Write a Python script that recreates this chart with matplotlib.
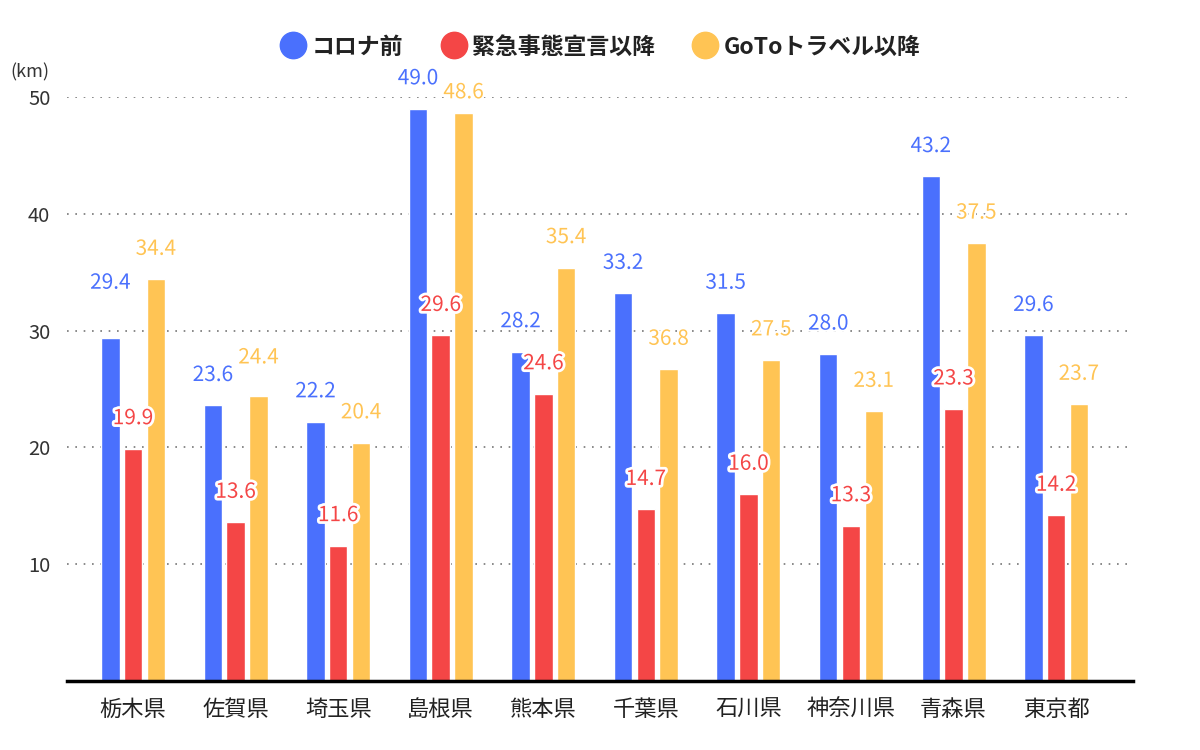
import matplotlib
matplotlib.use("Agg")
import matplotlib.pyplot as plt
import matplotlib.patheffects as pe
from matplotlib.lines import Line2D
import numpy as np

plt.rcParams['font.family'] = ['Noto Sans CJK JP', 'DejaVu Sans']

categories = ["栃木県", "佐賀県", "埼玉県", "島根県", "熊本県", "千葉県", "石川県", "神奈川県", "青森県", "東京都"]
series_names = ["コロナ前", "緊急事態宣言以降", "GoToトラベル以降"]

before_covid = [29.4, 23.6, 22.2, 49.0, 28.2, 33.2, 31.5, 28.0, 43.2, 29.6]
after_emergency = [19.9, 13.6, 11.6, 29.6, 24.6, 14.7, 16.0, 13.3, 23.3, 14.2]
after_goto = [34.4, 24.4, 20.4, 48.6, 35.4, 26.7, 27.5, 23.1, 37.5, 23.7]

# value labels as printed on the chart
label_before = ["29.4", "23.6", "22.2", "49.0", "28.2", "33.2", "31.5", "28.0", "43.2", "29.6"]
label_emergency = ["19.9", "13.6", "11.6", "29.6", "24.6", "14.7", "16.0", "13.3", "23.3", "14.2"]
label_goto = ["34.4", "24.4", "20.4", "48.6", "35.4", "36.8", "27.5", "23.1", "37.5", "23.7"]

y_ticks = [10, 20, 30, 40, 50]

colors = ["#4a70fd", "#f44646", "#ffc454"]

fig = plt.figure(figsize=(12, 7.5), dpi=100)
ax = fig.add_axes([67/1200, 1-681/750, (1133-67)/1200, (681-97)/750])

x = np.arange(len(categories))
width = 0.18
offsets = [-0.222, 0.0, 0.222]
all_vals = [before_covid, after_emergency, after_goto]
all_labels = [label_before, label_emergency, label_goto]

# label nudges (series index, category index) -> extra offset in data units
nudges = {(0, 0): 2.1, (2, 1): 0.7, (2, 3): -0.8}

for s, (vals, labs) in enumerate(zip(all_vals, all_labels)):
    ax.bar(x + offsets[s], vals, width=width, color=colors[s],
           edgecolor="white", linewidth=1.0, zorder=3)
    for i, (v, lab) in enumerate(zip(vals, labs)):
        ylab = v + 2.6 + nudges.get((s, i), 0)
        t = ax.text(x[i] + offsets[s], ylab, lab, ha="center", va="center",
                    fontsize=15, color=colors[s], zorder=5)
        t.set_path_effects([pe.withStroke(linewidth=4 if s == 1 else 3, foreground="white")])

ax.set_xlim(-0.644, 9.75)
ax.set_ylim(0, 50)

for yv in y_ticks:
    ax.axhline(yv, color="#777777", linestyle=(0, (1, 4)), linewidth=1.2, zorder=1)

ax.set_yticks(y_ticks)
ax.set_yticklabels([str(v) for v in y_ticks], fontsize=14.5, color="#333333")
ax.tick_params(axis="y", length=0, pad=12)
ax.set_xticks(x)
ax.set_xticklabels(categories, fontsize=16, color="#222222")
ax.tick_params(axis="x", length=0, pad=12)

for sp in ["top", "right", "left"]:
    ax.spines[sp].set_visible(False)
ax.spines["bottom"].set_linewidth(2.5)
ax.spines["bottom"].set_color("black")
ax.spines["bottom"].set_zorder(6)

fig.text(30/1200, 1-72/750, "(km)", ha="center", va="center", fontsize=13, color="#333333")

handles = [Line2D([0], [0], marker="o", color="none", markerfacecolor=c,
                  markeredgecolor=c, markersize=19) for c in colors]
leg = fig.legend(handles, series_names, loc="center", bbox_to_anchor=(0.5, 1-47/750),
                 ncol=3, frameon=False, handletextpad=0.2, columnspacing=1.6,
                 prop={"size": 16.5, "weight": "bold"}, handlelength=1.2)
for t in leg.get_texts():
    t.set_color("#222222")

fig.savefig("out.png", dpi=100)
